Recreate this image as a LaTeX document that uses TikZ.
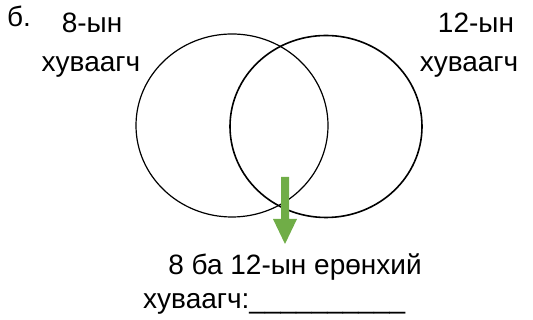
\documentclass[tikz,border=0pt]{standalone}
\usepackage{fontspec}
\setmainfont{Liberation Sans}
\begin{document}
\begin{tikzpicture}[x=1pt,y=1pt,
  lbl/.style={inner sep=0pt, anchor=base, font=\fontsize{28}{32}\selectfont}]
\useasboundingbox (0,0) rectangle (533,320);
\node[lbl, anchor=base west] (b) at (7,293) {б.};
\node[lbl] (l1) at (92,287) {8-ын};
\node[lbl] (l2) at (91,248) {хуваагч};
\node[lbl] (r1) at (476,287) {12-ын};
\node[lbl] (r2) at (469,248) {хуваагч};
\node[lbl] (c1) at (295,45) {8 ба 12-ын ерөнхий};
\node[lbl, anchor=base west] (c2) at (143,11) {хуваагч:\_\_\_\_\_\_\_\_\_\_};
\draw[line width=1.2pt] (232,194.5) ellipse [x radius=96, y radius=91.5];
\draw[line width=1.6pt] (326,193.5) ellipse [x radius=96, y radius=91];
\fill[fill={rgb,255:red,112;green,173;blue,71}]
  (281,143) -- (289,143) -- (289,101) -- (297,101) -- (285,76) -- (273,101) -- (281,101) -- cycle;
\end{tikzpicture}
\end{document}
